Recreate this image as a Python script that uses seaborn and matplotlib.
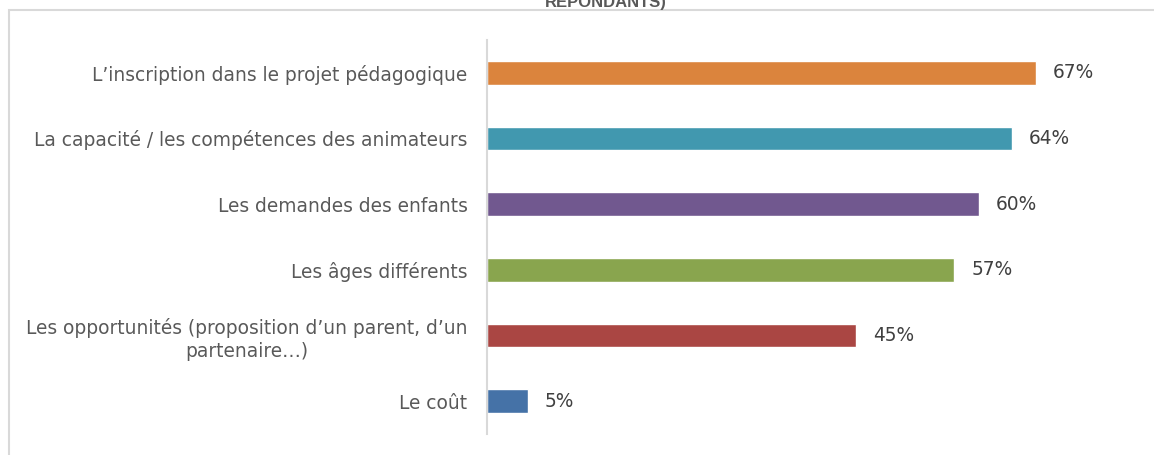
import matplotlib
matplotlib.use("Agg")
import matplotlib.pyplot as plt
from matplotlib.patches import Rectangle
import seaborn as sns
import pandas as pd

categories = [
    "L’inscription dans le projet pédagogique",
    "La capacité / les compétences des animateurs",
    "Les demandes des enfants",
    "Les âges différents",
    "Les opportunités (proposition d’un parent, d’un\npartenaire…)",
    "Le coût",
]
values = [67, 64, 60, 57, 45, 5]
colors = ["#DB843D", "#4198AF", "#71588F", "#89A54E", "#AA4643", "#4572A7"]
title_tail = "RÉPONDANTS)"

sns.set_theme(style="white")
plt.rcParams["font.family"] = ["DejaVu Sans"]

df = pd.DataFrame({"cat": categories, "val": values})

W, H = 1154, 455
fig = plt.figure(figsize=(W / 100, H / 100), dpi=100)
fig.patch.set_facecolor("white")

# light frame around the chart area (extends past the right and bottom edges)
fig.patches.append(Rectangle((9 / W, -0.1), 1.2, (H - 10) / H + 0.1,
                             transform=fig.transFigure, fill=False,
                             edgecolor="#D9D9D9", linewidth=1.5))

ax = fig.add_axes([487 / W, 21 / H, 643 / W, 394 / H])
sns.barplot(data=df, x="val", y="cat", hue="cat", palette=colors,
            width=0.36, legend=False, ax=ax, saturation=1)

ax.set_xlim(0, 643 / 8.2)
ax.set_ylim(5.5, -0.5)
ax.set_xlabel("")
ax.set_ylabel("")
ax.set_xticks([])
for s in ["top", "right", "bottom"]:
    ax.spines[s].set_visible(False)
ax.spines["left"].set_color("#D9D9D9")
ax.spines["left"].set_linewidth(1.5)
ax.tick_params(axis="y", length=0, pad=14, labelsize=13.4, labelcolor="#595959")
for lbl in ax.get_yticklabels():
    lbl.set_multialignment("center")
    lbl.set_linespacing(1.25)

for i, v in enumerate(values):
    ax.annotate(f"{v}%", xy=(v, i), xytext=(12, 0), textcoords="offset points",
                ha="left", va="center", fontsize=13.4, color="#404040")

fig.text(606 / W, 1 - 7 / H, title_tail, ha="center", va="baseline",
         fontsize=12, fontweight="bold", color="#595959",
         family=["Liberation Sans", "DejaVu Sans"])

fig.savefig("out.png", dpi=100, facecolor="white")
